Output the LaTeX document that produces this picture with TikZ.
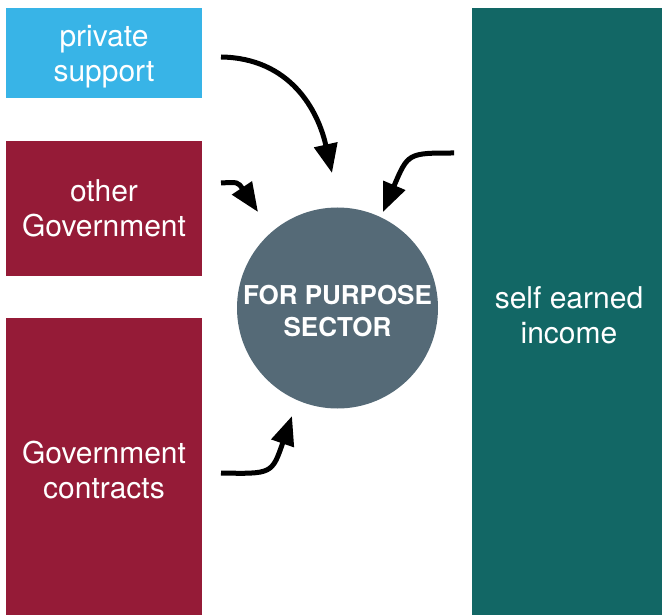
\documentclass[tikz,border=0pt]{standalone}
\usepackage{fontspec}
\setmainfont{TeX Gyre Heros}
\usetikzlibrary{arrows.meta}
\definecolor{skyblue}{HTML}{38B4E7}
\definecolor{maroon}{HTML}{951B37}
\definecolor{teal}{HTML}{126765}
\definecolor{slate}{HTML}{556A77}
\tikzset{
  box/.style={fill=#1, text=white, inner sep=0pt, align=center,
    font=\fontsize{30}{35}\selectfont},
  label/.style={text=white, align=center, font=\fontsize{30}{35}\selectfont},
  flow/.style={line width=5pt, -{Triangle[length=29pt,width=23pt]}}
}
\begin{document}
\begin{tikzpicture}[x=1pt,y=-1pt]
	\useasboundingbox (0,0) rectangle (662,615);
	\node[box=skyblue, minimum width=196pt, minimum height=90pt] at (104, 53)  (priv) {};
	\node[label] at (104, 57) (privtxt) {private\\support};
	\node[box=maroon, minimum width=196pt, minimum height=135pt] at (104, 208.5)  (gov) {other\\Government};
	\node[box=maroon, minimum width=196pt, minimum height=297pt] at (104, 466.5)  (contr) {};
	\node[label] at (104, 470) (contrtxt) {Government\\contracts};
	\node[box=teal, minimum width=190pt, minimum height=607pt] at (567, 311.5)  (self) {};
	\node[label] at (569, 315) (selftxt) {self earned\\income};
	
	\node[circle, fill=slate, minimum size=201pt, inner sep=0pt] at (337.5, 308) (fps) {};
	\node[text=white, align=center, font=\bfseries\fontsize{26}{32}\selectfont] at (337.5, 311) (fpstxt) {FOR PURPOSE\\SECTOR};
	
	% arrow ends
	\coordinate (a1) at (221, 57);   \coordinate (t1) at (332, 173);
	\coordinate (a2) at (221, 183);  \coordinate (t2) at (258, 212);
	\coordinate (a3) at (454, 153);  \coordinate (t3) at (383, 212);
	\coordinate (a4) at (221, 473);  \coordinate (t4) at (292, 416);
	
	% draw arrows
	\draw[flow] (a1) .. controls (290, 58) and (318, 110) .. (t1);
	\draw[flow] (a2) .. controls (238, 182) .. (t2);
	\draw[flow] (a3) .. controls (408, 153) .. (t3);
	\draw[flow] (a4) .. controls (272, 474) .. (t4);
	
\end{tikzpicture}
\end{document}
